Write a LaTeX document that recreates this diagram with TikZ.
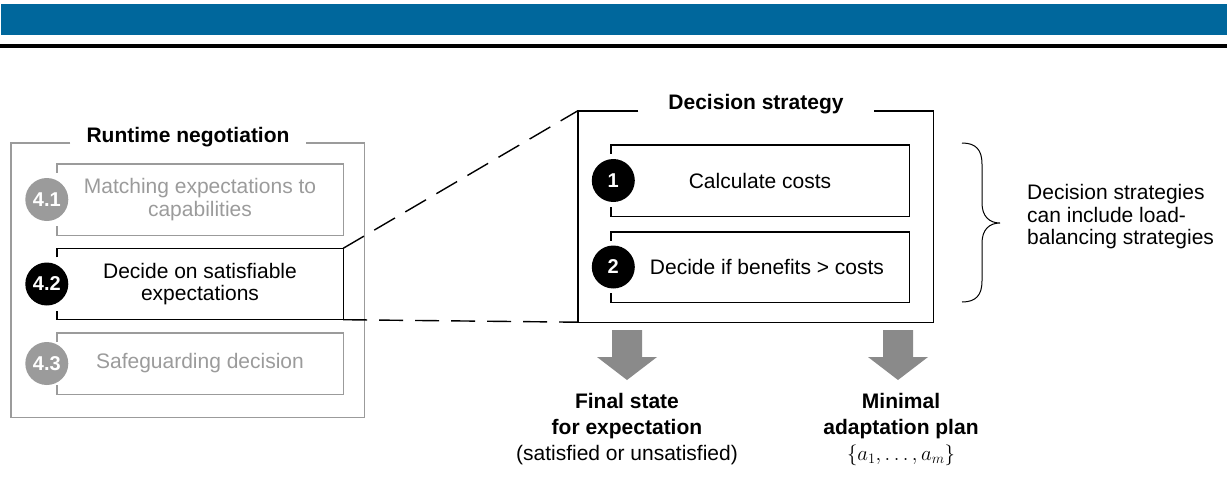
\documentclass[tikz,border=0pt]{standalone}
\usepackage{fontspec}
\setmainfont{Liberation Sans}
\usetikzlibrary{calc}
\definecolor{band}{RGB}{0,103,156}
\definecolor{lgray}{RGB}{155,155,155}
\definecolor{agray}{RGB}{138,138,138}
\newcommand\brkbox[2]{\draw[frame,#2] ([yshift=-9pt]#1.north west) -- (#1.north west) -- (#1.north east) -- (#1.south east) -- (#1.south west) -- ([yshift=9pt]#1.south west);}
\begin{document}
\begin{tikzpicture}[x=1pt,y=-1pt,line join=miter,
  txt/.style={font=\fontsize{21}{22.5}\selectfont, align=center, inner sep=0},
  ttl/.style={font=\fontsize{21}{22.5}\selectfont\bfseries, inner sep=0},
  stepnum/.style={circle, minimum size=43, inner sep=0, font=\fontsize{20}{20}\selectfont\bfseries, text=white},
  frame/.style={line width=1.4},
  boxarea/.style={inner sep=0, minimum width=286},
  dsbox/.style={inner sep=0, minimum width=298},
  zoomline/.style={frame, dash pattern=on 24pt off 12pt},
  blockarrow/.style={fill=agray}]
\useasboundingbox (0,0) rectangle (1227,477);
% header
\fill[band] (1,4) rectangle (1227,35);
\fill[black] (0,44) rectangle (1227,48);

% left group
\node[inner sep=0, minimum width=353, minimum height=274] (ro) at (187.5,280) {};
\node[ttl, inner xsep=16pt] (rtitle) at (188,137) {Runtime negotiation};
\draw[frame, lgray] (rtitle.west |- ro.north) -- (ro.north west) -- (ro.south west) -- (ro.south east) -- (ro.north east) -- (rtitle.east |- ro.north);

\node[boxarea, minimum height=71] (b41) at (200,199.5) {};
\node[boxarea, minimum height=71] (b42) at (200,284) {};
\node[boxarea, minimum height=61] (b43) at (200,363.5) {};
\brkbox{b41}{lgray}
\brkbox{b42}{black}
\brkbox{b43}{lgray}
\node[txt, text=lgray] (t41) at (b41.center) {Matching expectations to\\capabilities};
\node[txt] (t42) at (b42.center) {Decide on satisfiable\\expectations};
\node[txt, text=lgray] (t43) at (b43.center) {Safeguarding decision};
\node[stepnum, fill=lgray] (c41) at ([xshift=-10pt]b41.west) {4.1};
\node[stepnum, fill=black] (c42) at ([xshift=-10pt]b42.west) {4.2};
\node[stepnum, fill=lgray] (c43) at ([xshift=-10pt]b43.west) {4.3};

% decision strategy group
\node[inner sep=0, minimum width=355, minimum height=211] (ds) at (755.5,216.5) {};
\node[ttl, inner xsep=30pt] (dtitle) at (756,104) {Decision strategy};
\draw[frame] (dtitle.west |- ds.north) -- (ds.north west) -- (ds.south west) -- (ds.south east) -- (ds.north east) -- (dtitle.east |- ds.north);

\node[dsbox, minimum height=71] (d1) at (760,180.5) {};
\node[dsbox, minimum height=70] (d2) at (760,267) {};
\brkbox{d1}{black}
\brkbox{d2}{black}
\node[txt] (td1) at (d1.center) {Calculate costs};
\node[txt] (td2) at ([xshift=7pt]d2.center) {Decide if benefits > costs};
\node[stepnum, fill=black] (cd1) at ([xshift=2.5pt]d1.west) {1};
\node[stepnum, fill=black] (cd2) at ([xshift=2.5pt]d2.west) {2};

% zoom lines
\draw[zoomline] (b42.north east) -- (ds.north west);
\draw[zoomline] (b42.south east) -- (ds.south west);

% brace and note
\coordinate (brtop) at (962,143);
\coordinate (brtip) at (1000,223);
\coordinate (brbot) at (962,302);
\draw[line width=1] (brtop) .. controls (976,143) and (982,150) .. (982,164) -- (982,203)
  .. controls (982,216) and (989,223) .. (brtip)
  .. controls (989,223) and (982,230) .. (982,243) -- (982,281)
  .. controls (982,295) and (976,302) .. (brbot);
\node[txt, align=left, anchor=west] (note) at (1027,217) {Decision strategies\\can include load-\\balancing strategies};

% output arrows
\coordinate (a1) at (627,330);
\coordinate (a2) at (898,330);
\foreach \a in {a1,a2}{
  \fill[blockarrow] ($(\a)+(-15,0)$) -- ($(\a)+(15,0)$) -- ($(\a)+(15,27)$) -- ($(\a)+(30,27)$) -- ($(\a)+(0,50)$) -- ($(\a)+(-30,27)$) -- ($(\a)+(-15,27)$) -- cycle;
}
\node[txt, font=\fontsize{21}{26}\selectfont] (out1) at (627,429) {\textbf{Final state}\\\textbf{for expectation}\\(satisfied or unsatisfied)};
\node[txt, font=\fontsize{21}{26}\selectfont] (out2) at (901,429) {\textbf{Minimal}\\\textbf{adaptation plan}\\$\{a_1,\ldots,a_m\}$};
\end{tikzpicture}
\end{document}
